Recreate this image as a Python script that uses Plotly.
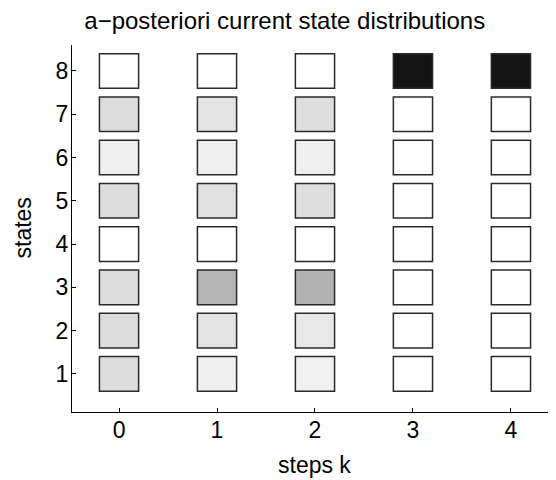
import plotly.graph_objects as go

steps = [0, 1, 2, 3, 4]
states = [1, 2, 3, 4, 5, 6, 7, 8]
# probability of each state (rows: states 1..8) per step k
p_step0 = [0.15, 0.15, 0.15, 0.0, 0.15, 0.07, 0.15, 0.0]
p_step1 = [0.07, 0.12, 0.32, 0.0, 0.13, 0.07, 0.12, 0.0]
p_step2 = [0.065, 0.10, 0.33, 0.0, 0.14, 0.07, 0.14, 0.0]
p_step3 = [0.0, 0.0, 0.0, 0.0, 0.0, 0.0, 0.0, 1.0]
p_step4 = [0.0, 0.0, 0.0, 0.0, 0.0, 0.0, 0.0, 1.0]
probs = [p_step0, p_step1, p_step2, p_step3, p_step4]

FONT = "Liberation Sans, Arial, Helvetica, sans-serif"
FS = 23


def gray(p):
    v = int(round(255 * (1 - 0.92 * p)))
    return f"rgb({v},{v},{v})"


xs, bases, colors = [], [], []
for k, col in zip(steps, probs):
    for s, p in zip(states, col):
        xs.append(k)
        bases.append(s - 0.4)
        colors.append(gray(p))

fig = go.Figure(
    go.Bar(
        x=xs,
        y=[0.8] * len(xs),
        base=bases,
        width=0.4,
        marker=dict(color=colors, line=dict(color="#2a2a2a", width=1.5)),
        hoverinfo="skip",
    )
)

# page body has an 8px default margin; figure is sized to compensate
fig.update_layout(
    width=548,
    height=472,
    margin=dict(l=64, r=0, t=37, b=68),
    paper_bgcolor="white",
    plot_bgcolor="white",
    showlegend=False,
    font=dict(family=FONT, size=FS, color="black"),
    title=dict(
        text="a\u2212posteriori current state distributions",
        x=0.505,
        xanchor="center",
        y=0.974,
        yanchor="middle",
        font=dict(family=FONT, size=24, color="black"),
    ),
    xaxis=dict(
        range=[-0.48, 4.46],
        tickvals=steps,
        ticktext=[str(s) for s in steps],
        tickfont=dict(family=FONT, size=FS, color="black"),
        ticks="inside",
        ticklen=4,
        tickcolor="black",
        ticklabelstandoff=-3,
        showline=True,
        linecolor="black",
        linewidth=1,
        showgrid=False,
        zeroline=False,
        automargin=False,
        fixedrange=True,
    ),
    yaxis=dict(
        range=[0.12, 8.6],
        tickvals=states,
        ticktext=[str(s) for s in states],
        tickfont=dict(family=FONT, size=FS, color="black"),
        ticks="inside",
        ticklen=4,
        tickcolor="black",
        ticklabelstandoff=-2,
        showline=True,
        linecolor="black",
        linewidth=1,
        showgrid=False,
        zeroline=False,
        automargin=False,
        fixedrange=True,
    ),
    annotations=[
        dict(
            text="steps k", xref="paper", yref="paper", x=0.5, y=0,
            xanchor="center", yanchor="middle", yshift=-53, showarrow=False,
            font=dict(family=FONT, size=FS, color="black"),
        ),
        dict(
            text="states", xref="paper", yref="paper", x=0, y=0.5,
            xanchor="center", yanchor="middle", xshift=-50, textangle=-90,
            showarrow=False, font=dict(family=FONT, size=FS, color="black"),
        ),
    ],
)

fig.write_html("out.html")
